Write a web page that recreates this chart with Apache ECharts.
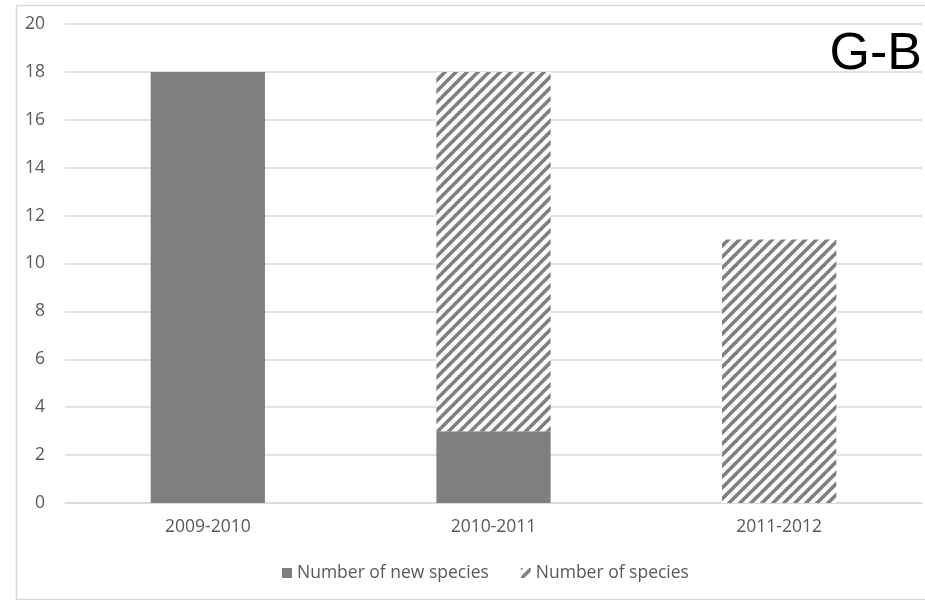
<!DOCTYPE html>
<html><head><meta charset="utf-8">
<script src="https://cdn.jsdelivr.net/npm/echarts@6/dist/echarts.min.js"></script>
<style>html,body{margin:0;padding:0;background:#fff}#c{width:925px;height:600px}</style>
</head><body><div id="c"></div>
<script>
const categories = ['2009-2010', '2010-2011', '2011-2012'];
const newSpecies = [18, 3, 0];
const species = [0, 15, 11];
const seriesNames = ['Number of new species', 'Number of species'];
const panelLabel = 'G-B';

function hatch() {
  const s = 11;
  const c = document.createElement('canvas');
  c.width = s; c.height = s;
  const g = c.getContext('2d');
  g.fillStyle = '#ffffff';
  g.fillRect(0, 0, s, s);
  g.strokeStyle = '#7f7f7f';
  g.lineWidth = 3.6;
  for (let k = -1; k <= 1; k++) {
    g.beginPath();
    g.moveTo(k * s - 1, s + 1);
    g.lineTo(k * s + s + 1, -1);
    g.stroke();
  }
  return c;
}

const chart = echarts.init(document.getElementById('c'), null, {renderer: 'canvas'});
const font = "'Open Sans', sans-serif";
const fs = 17.5;
chart.setOption({
  animation: false,
  graphic: [
    {type: 'rect', left: 14, top: 3, shape: {width: 930, height: 594},
     style: {fill: 'none', stroke: '#d9d9d9', lineWidth: 1.5}, silent: true},
    {type: 'text', right: 3, top: 29,
     style: {text: panelLabel, font: "52px 'Liberation Sans', Arial, sans-serif", fill: '#000'}}
  ],
  grid: {left: 65, right: 3, top: 24, bottom: 97},
  legend: {
    left: 277, top: 559, itemGap: 32, itemWidth: 10, itemHeight: 10, icon: 'rect',
    textStyle: {fontFamily: font, fontSize: fs, color: '#595959'},
    data: seriesNames
  },
  xAxis: {
    type: 'category', data: categories,
    axisLine: {lineStyle: {color: '#d9d9d9', width: 1.5}},
    axisTick: {show: false},
    axisLabel: {fontFamily: font, fontSize: fs, color: '#595959', margin: 15}
  },
  yAxis: {
    type: 'value', min: 0, max: 20, interval: 2,
    axisLine: {show: false}, axisTick: {show: false},
    splitLine: {lineStyle: {color: '#d9d9d9', width: 1.5}},
    axisLabel: {fontFamily: font, fontSize: fs, color: '#595959', margin: 20}
  },
  series: [
    {name: seriesNames[0], type: 'bar', stack: 'a', data: newSpecies, barWidth: '40%',
     itemStyle: {color: '#7f7f7f'}},
    {name: seriesNames[1], type: 'bar', stack: 'a', data: species, barWidth: '40%',
     itemStyle: {color: {image: hatch(), repeat: 'repeat'}}}
  ]
});
</script></body></html>
